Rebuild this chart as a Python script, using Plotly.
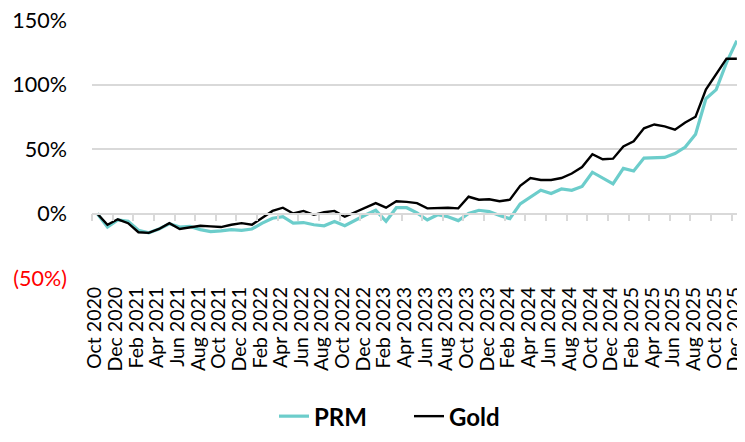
import plotly.graph_objects as go

MONTH_NAMES = ["Jan", "Feb", "Mar", "Apr", "May", "Jun", "Jul", "Aug", "Sep", "Oct", "Nov", "Dec"]
dates = []
y, m = 2020, 9
for _ in range(63):
    dates.append(f"{MONTH_NAMES[m]} {y}")
    m += 1
    if m == 12:
        m = 0
        y += 1

prm = [0, -10.5, -5, -6, -13, -15, -12, -8, -10.5, -10, -12.5, -14, -13.5, -12.5, -13, -12,
       -7.5, -3.7, -2.5, -7.5, -7, -8.7, -9.5, -6.2, -9.5, -5, -1.2, 2.5, -6, 4.5, 4.5, 0.5,
       -5, -1, -2.5, -5.5, 0, 2.5, 1.5, -1.5, -4, 7.5, 13, 18, 15.5, 19, 18, 21,
       32, 27.5, 23, 35, 33, 43, 43, 43.5, 46.5, 51.5, 61.5, 89, 96, 117, 134]
gold = [0, -8.7, -4.5, -7.5, -14.5, -15, -12, -7.5, -12, -10.5, -9.5, -10, -10.5, -8.7, -7.5, -8.7,
        -3, 2, 4.5, 0, 2, -1, 1, 2, -2.5, 1, 4.5, 8, 4.5, 9.5, 9, 8,
        4, 4.5, 4.5, 4, 13, 10.7, 11, 9.5, 10.7, 21.5, 27.5, 26, 26, 27.5, 31, 36,
        46, 42, 42.5, 52, 56, 66, 69, 67.5, 65, 70.5, 75, 96, 108, 120, 120]

ytick_vals = [-50, 0, 50, 100, 150]
ytick_text = ["<span style='color:#FF0000'>(50%)</span>", "0%", "50%", "100%", "150%"]

idx = list(range(len(dates)))
label_idx = idx[::2]
label_text = [dates[i] for i in label_idx]

FONT = "Lato"

fig = go.Figure()
fig.add_trace(go.Scatter(x=idx, y=prm, mode="lines", name="PRM",
                         line=dict(color="#6CCDCB", width=3.2)))
fig.add_trace(go.Scatter(x=idx, y=gold, mode="lines", name="Gold",
                         line=dict(color="#000000", width=2.4)))

fig.update_layout(
    width=745, height=442,
    margin=dict(l=84, r=11, t=12, b=163),
    paper_bgcolor="white", plot_bgcolor="white",
    font=dict(family=FONT, size=20, color="#000000"),
    showlegend=True,
    legend=dict(orientation="h", x=0.28, xanchor="left", y=-0.537, yanchor="middle",
                font=dict(family=FONT, size=24, color="#000000", weight="bold"),
                entrywidth=90, entrywidthmode="pixels", tracegroupgap=0),
    xaxis=dict(range=[-0.5, len(dates) - 0.5], tickmode="array", tickvals=label_idx,
               ticktext=label_text, tickangle=-90, showgrid=False, zeroline=False,
               showline=False, ticks="", ticklabelstandoff=4, automargin=False,
               ticklabeloverflow="allow", ticklabelshift=-2,
               tickfont=dict(family=FONT, size=19.5, color="#000000")),
    xaxis2=dict(range=[-0.5, len(dates) - 0.5], overlaying="x", anchor="free", position=0.25,
                side="bottom", tickmode="array",
                tickvals=[i - 0.5 for i in label_idx], showticklabels=False,
                ticks="outside", ticklen=7, tickwidth=1.5, tickcolor="#D9D9D9",
                showline=True, linecolor="#D9D9D9", linewidth=1.5, showgrid=False,
                zeroline=False),
    yaxis=dict(range=[-50, 150], tickmode="array", tickvals=ytick_vals, ticktext=ytick_text,
               showgrid=True, gridcolor="#D9D9D9", gridwidth=1.5, zeroline=False,
               showline=False, ticks="", ticklabelstandoff=24, automargin=False,
               ticklabeloverflow="allow",
               tickfont=dict(family=FONT, size=21.5, color="#000000")),
)
# dummy trace on xaxis2 so the zero-line axis renders
fig.add_trace(go.Scatter(x=[0], y=[None], xaxis="x2", showlegend=False, hoverinfo="skip"))

fig.write_html("out.html")
